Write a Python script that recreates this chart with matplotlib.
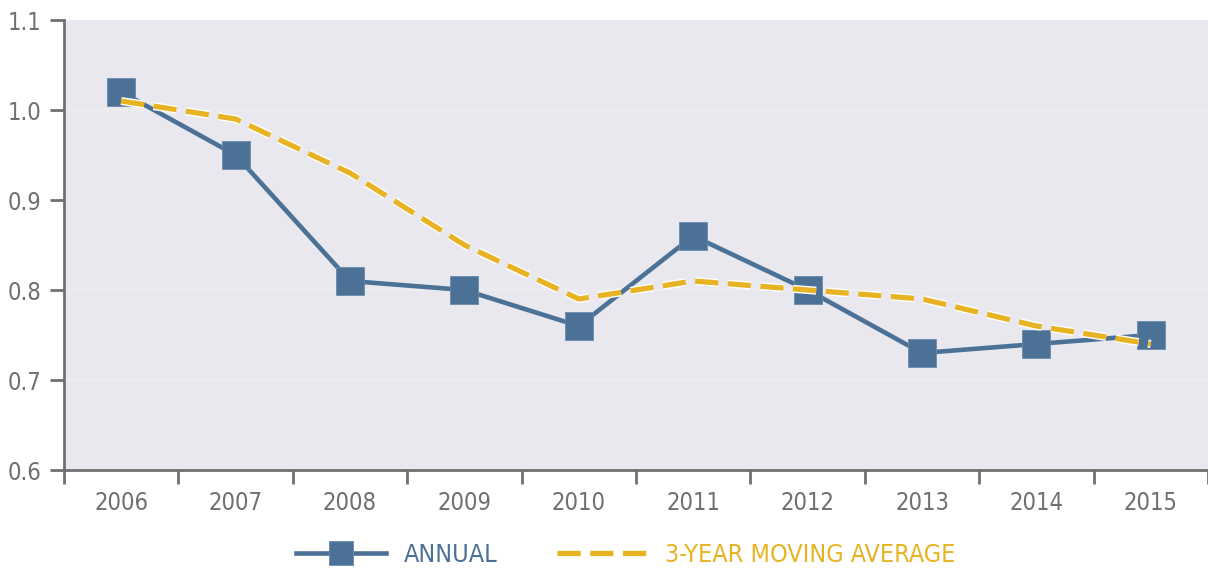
import matplotlib
matplotlib.use('Agg')
import matplotlib.pyplot as plt
import matplotlib.patheffects as pe
from matplotlib.ticker import FixedLocator, NullFormatter

plt.rcParams['font.family'] = ['DejaVu Sans']
plt.rcParams['font.stretch'] = 'condensed'

# ========== 数据 ==========
years = ['2006', '2007', '2008', '2009', '2010', '2011', '2012', '2013', '2014', '2015']
annual = [1.02, 0.95, 0.81, 0.80, 0.76, 0.86, 0.80, 0.73, 0.74, 0.75]
moving_avg = [1.01, 0.99, 0.93, 0.85, 0.79, 0.81, 0.80, 0.79, 0.76, 0.74]
y_ticks = [0.6, 0.7, 0.8, 0.9, 1.0, 1.1]

BLUE = '#4b7196'
GOLD = '#e8b323'
GREY = '#707070'
BG = '#e8e8ee'

fig = plt.figure(figsize=(12.08, 5.70), dpi=100)
ax = fig.add_axes([64 / 1208, 100 / 570, 1 - 64 / 1208, 450 / 570])
ax.set_facecolor(BG)

x = list(range(len(years)))

ax.plot(x, annual, color=BLUE, lw=3.3, marker='s', ms=19.5,
        mfc=BLUE, mec='#6a8aab', mew=0.6, zorder=3, label='ANNUAL')
ax.plot(x, moving_avg, color=GOLD, lw=3.8, ls=(0, (4.4, 1.8)), zorder=4,
        label='3-YEAR MOVING AVERAGE',
        path_effects=[pe.Stroke(linewidth=5.8, foreground='white'), pe.Normal()])

ax.set_xlim(-0.5, len(years) - 0.5)
ax.set_ylim(0.6, 1.1)

# 网格
ax.set_yticks(y_ticks)
ax.set_yticklabels([f'{v:.1f}' for v in y_ticks])
ax.yaxis.grid(True, color='#eeeef2', lw=1.2)
ax.set_axisbelow(True)

# x 轴：刻度在类别之间，标签居中
ax.xaxis.set_major_locator(FixedLocator([i - 0.5 for i in range(len(years) + 1)]))
ax.xaxis.set_major_formatter(NullFormatter())
ax.xaxis.set_minor_locator(FixedLocator(x))
ax.set_xticklabels(years, minor=True)
ax.tick_params(axis='x', which='major', length=10, width=2, color=GREY, direction='out')
ax.tick_params(axis='x', which='minor', length=0, pad=15, labelsize=17, labelcolor=GREY)
ax.tick_params(axis='y', length=10, width=2, color=GREY, labelsize=17,
               labelcolor=GREY, pad=6)

for side in ['top', 'right']:
    ax.spines[side].set_visible(False)
for side in ['left', 'bottom']:
    ax.spines[side].set_color(GREY)
    ax.spines[side].set_linewidth(2)

leg = fig.legend(loc='center', bbox_to_anchor=(0.518, 15 / 570), ncol=2,
                 frameon=False, fontsize=18, handlelength=3.6, columnspacing=2.4,
                 handletextpad=0.7, markerscale=0.85)
for txt, col in zip(leg.get_texts(), [BLUE, GOLD]):
    txt.set_color(col)

plt.savefig('out.png', dpi=100)
plt.close()
